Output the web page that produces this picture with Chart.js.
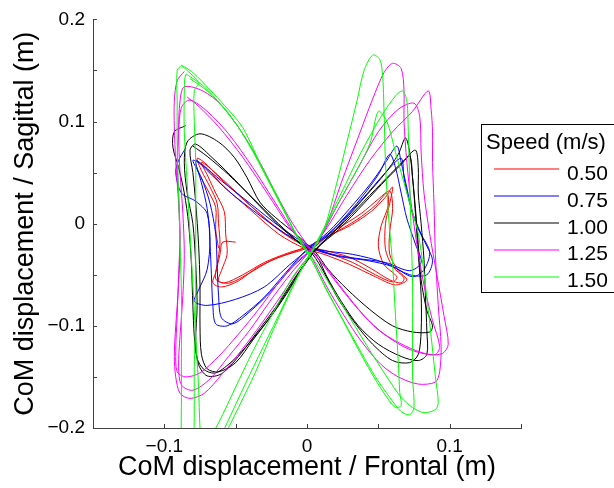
<!DOCTYPE html>
<html><head><meta charset="utf-8">
<script src="https://cdn.jsdelivr.net/npm/chart.js@4.4.1/dist/chart.umd.min.js"></script>
<style>html,body{margin:0;padding:0;background:#fff;}canvas{display:block;}</style>
</head><body>
<canvas id="c" width="614" height="488"></canvas>
<script>
// ---------- data ----------
const legendTitle = 'Speed (m/s)';
const speedLabels = ['0.50', '0.75', '1.00', '1.25', '1.50'];
const speedColors = ['#ff0000', '#0000ff', '#000000', '#ff00ff', '#00ff00'];
const xTitle = 'CoM displacement / Frontal (m)';
const yTitle = 'CoM displacement / Sagittal (m)';
const xTickValues = [-0.1, 0, 0.1];
const xTickLabels = ['\u22120.1', '0', '0.1'];
const yTickValues = [-0.2, -0.1, 0, 0.1, 0.2];
const yTickLabels = ['\u22120.2', '\u22120.1', '0', '0.1', '0.2'];
const xMinorTicks = [-0.15, -0.1, -0.05, 0, 0.05, 0.1, 0.15];
const yMinorTicks = [-0.2, -0.15, -0.1, -0.05, 0, 0.05, 0.1, 0.15, 0.2];

// [frontal, sagittal] samples of the CoM trajectory, per walking speed
const speed050 = [
 [-0.050,-0.018],[-0.059,-0.018],
 [-0.061,-0.030],[-0.064,-0.048],[-0.066,-0.058],[-0.060,-0.062],[-0.048,-0.056],[-0.035,-0.043],[-0.018,-0.032],[0.000,-0.024],
 [0.015,-0.012],[0.030,-0.002],[0.045,0.012],[0.055,0.026],[0.060,0.036],[0.058,0.020],[0.055,0.000],[0.055,-0.025],[0.060,-0.042],[0.068,-0.053],[0.066,-0.058],[0.058,-0.055],
 [0.045,-0.044],[0.030,-0.033],[0.012,-0.026],[0.000,-0.022],[-0.015,-0.010],[-0.030,0.006],[-0.048,0.028],[-0.062,0.046],[-0.072,0.060],[-0.077,0.064],[-0.074,0.052],
 [-0.068,0.036],[-0.063,0.020],[-0.062,0.000],[-0.061,-0.020],
 [-0.063,-0.040],[-0.064,-0.054],[-0.058,-0.058],[-0.045,-0.050],[-0.030,-0.038],[-0.012,-0.028],[0.002,-0.022],[0.018,-0.010],[0.035,0.004],[0.048,0.018],[0.056,0.030],
 [0.057,0.018],[0.052,-0.002],[0.050,-0.022],[0.054,-0.040],[0.063,-0.052],[0.060,-0.057],[0.048,-0.050],[0.032,-0.038],[0.015,-0.029],[0.000,-0.023],
 [-0.018,-0.008],[-0.035,0.012],[-0.052,0.034],[-0.066,0.052],[-0.074,0.060],[-0.070,0.048],[-0.064,0.030],[-0.058,0.012],[-0.057,-0.010],
 [-0.056,-0.030],[-0.060,-0.046],[-0.062,-0.056],[-0.054,-0.058],[-0.040,-0.048],[-0.025,-0.036],[-0.010,-0.028],[0.004,-0.020],[0.020,-0.006],[0.038,0.010],[0.050,0.024],[0.058,0.032],
 [0.060,0.015],[0.058,-0.008],[0.058,-0.030],[0.064,-0.046],[0.070,-0.055],[0.062,-0.060],[0.048,-0.052],[0.030,-0.040],[0.012,-0.030],[-0.002,-0.024],
 [-0.020,-0.010],[-0.040,0.014],[-0.058,0.036],[-0.070,0.054],[-0.078,0.062],[-0.076,0.050],[-0.070,0.034],[-0.064,0.016],[-0.064,-0.006],[-0.062,-0.024]
];
const speed075 = [
 [-0.085,0.074],[-0.090,0.062],[-0.092,0.050],[-0.088,0.030],[-0.078,0.022],[-0.070,0.010],[-0.068,-0.020],[-0.067,-0.050],[-0.066,-0.080],[-0.064,-0.098],[-0.056,-0.100],
 [-0.045,-0.090],[-0.030,-0.072],[-0.015,-0.048],[0.000,-0.025],[0.015,-0.008],[0.030,0.015],[0.045,0.040],[0.056,0.062],[0.063,0.076],
 [0.066,0.060],[0.070,0.035],[0.074,0.010],[0.080,-0.010],[0.086,-0.028],[0.082,-0.045],[0.074,-0.052],[0.060,-0.042],[0.042,-0.036],[0.022,-0.032],[0.005,-0.025],
 [-0.015,-0.010],[-0.035,0.010],[-0.055,0.032],[-0.070,0.052],[-0.078,0.062],
 [-0.074,0.040],[-0.070,0.015],[-0.068,-0.015],[-0.070,-0.045],[-0.076,-0.065],[-0.079,-0.076],[-0.070,-0.080],[-0.050,-0.074],[-0.030,-0.062],[-0.012,-0.040],[0.002,-0.024],
 [0.018,-0.006],[0.035,0.020],[0.050,0.048],[0.058,0.068],[0.062,0.055],[0.066,0.030],[0.070,0.005],[0.076,-0.020],[0.080,-0.038],[0.072,-0.046],[0.055,-0.038],[0.035,-0.034],[0.018,-0.030],[0.002,-0.022],
 [-0.018,-0.004],[-0.040,0.020],[-0.060,0.042],[-0.074,0.058],[-0.080,0.062],
 [-0.074,0.045],[-0.068,0.020],[-0.064,-0.010],[-0.063,-0.040],[-0.062,-0.070],[-0.060,-0.092],[-0.052,-0.098],[-0.040,-0.086],[-0.025,-0.066],[-0.010,-0.042],[0.003,-0.026],
 [0.020,-0.004],[0.040,0.026],[0.055,0.050],[0.066,0.064],[0.068,0.045],[0.072,0.020],[0.078,-0.005],[0.084,-0.022],[0.088,-0.036],[0.084,-0.050],[0.072,-0.050],[0.054,-0.038],[0.032,-0.030],[0.010,-0.026],[-0.004,-0.020]
];
const speed100 = [
 [-0.085,0.096],[-0.093,0.090],[-0.094,0.075],[-0.090,0.055],[-0.086,0.030],[-0.083,0.000],[-0.081,-0.040],[-0.080,-0.080],[-0.079,-0.110],[-0.077,-0.132],[-0.072,-0.143],[-0.064,-0.146],
 [-0.052,-0.134],[-0.040,-0.116],[-0.026,-0.092],[-0.014,-0.068],[-0.004,-0.045],[0.006,-0.026],[0.020,-0.006],[0.038,0.022],[0.054,0.048],[0.064,0.068],[0.069,0.084],
 [0.072,0.070],[0.074,0.045],[0.076,0.015],[0.078,-0.020],[0.080,-0.055],[0.084,-0.085],[0.088,-0.100],[0.086,-0.106],[0.074,-0.106],[0.060,-0.100],[0.044,-0.084],[0.028,-0.064],[0.015,-0.045],[0.006,-0.028],
 [-0.008,-0.010],[-0.022,0.006],[-0.033,0.021],[-0.042,0.045],[-0.051,0.065],[-0.062,0.080],[-0.075,0.088],[-0.084,0.080],
 [-0.086,0.060],[-0.084,0.030],[-0.080,0.000],[-0.078,-0.040],[-0.077,-0.080],[-0.078,-0.115],[-0.076,-0.138],[-0.070,-0.149],[-0.060,-0.147],[-0.048,-0.130],[-0.036,-0.108],[-0.022,-0.082],[-0.010,-0.056],[0.000,-0.036],[0.008,-0.022],
 [0.022,-0.004],[0.040,0.022],[0.056,0.045],[0.068,0.062],[0.076,0.072],[0.078,0.055],[0.078,0.030],[0.080,0.000],[0.082,-0.035],[0.083,-0.070],[0.084,-0.105],[0.084,-0.128],[0.078,-0.134],[0.066,-0.130],[0.050,-0.118],[0.036,-0.100],[0.024,-0.076],[0.014,-0.052],[0.006,-0.030],
 [-0.004,-0.020],[-0.018,-0.004],[-0.035,0.020],[-0.052,0.045],[-0.066,0.064],[-0.078,0.078],[-0.082,0.072],
 [-0.080,0.050],[-0.078,0.020],[-0.076,-0.020],[-0.075,-0.060],[-0.075,-0.100],[-0.074,-0.128],[-0.070,-0.142],[-0.062,-0.145],[-0.050,-0.136],[-0.038,-0.114],[-0.024,-0.088],[-0.012,-0.062],[-0.002,-0.040],[0.007,-0.024],
 [0.022,-0.006],[0.040,0.020],[0.056,0.044],[0.066,0.058],[0.072,0.066],[0.074,0.045],[0.076,0.010],[0.078,-0.030],[0.080,-0.070],[0.080,-0.105],[0.078,-0.128],[0.072,-0.136],[0.060,-0.134],[0.046,-0.118],[0.034,-0.098],[0.022,-0.074],[0.012,-0.048],[0.004,-0.030],
 [-0.006,-0.018],[-0.020,0.000],[-0.038,0.025],[-0.055,0.048],[-0.070,0.066],[-0.080,0.076]
];
const speed125 = [
 [-0.086,0.149],[-0.091,0.140],[-0.093,0.120],[-0.093,0.095],[-0.092,0.060],[-0.090,0.020],[-0.089,-0.020],[-0.090,-0.060],[-0.092,-0.100],[-0.093,-0.130],[-0.092,-0.150],[-0.089,-0.166],[-0.082,-0.171],
 [-0.072,-0.166],[-0.060,-0.148],[-0.046,-0.124],[-0.032,-0.098],[-0.018,-0.070],[-0.006,-0.045],[0.004,-0.026],[0.014,0.000],[0.024,0.040],[0.036,0.085],[0.046,0.122],[0.054,0.148],[0.060,0.157],
 [0.066,0.152],[0.068,0.130],[0.068,0.100],[0.070,0.060],[0.073,0.020],[0.077,-0.020],[0.082,-0.060],[0.088,-0.095],[0.093,-0.120],[0.090,-0.128],[0.080,-0.126],[0.065,-0.117],[0.050,-0.104],[0.036,-0.084],[0.022,-0.060],[0.010,-0.038],[0.002,-0.024],
 [-0.010,0.000],[-0.022,0.030],[-0.033,0.060],[-0.046,0.090],[-0.060,0.116],[-0.073,0.130],[-0.086,0.134],
 [-0.089,0.120],[-0.090,0.090],[-0.089,0.050],[-0.087,0.010],[-0.086,-0.030],[-0.087,-0.070],[-0.089,-0.110],[-0.090,-0.140],[-0.088,-0.158],[-0.080,-0.163],[-0.068,-0.152],[-0.055,-0.130],[-0.040,-0.104],[-0.026,-0.076],[-0.012,-0.050],[0.000,-0.030],
 [0.010,-0.012],[0.022,0.020],[0.036,0.055],[0.050,0.090],[0.064,0.112],[0.075,0.118],[0.079,0.105],[0.080,0.070],[0.082,0.030],[0.086,-0.010],[0.091,-0.050],[0.096,-0.090],[0.099,-0.118],[0.095,-0.127],[0.085,-0.128],[0.070,-0.122],[0.054,-0.108],[0.040,-0.090],[0.026,-0.066],[0.014,-0.044],[0.004,-0.028],
 [-0.008,-0.010],[-0.022,0.020],[-0.038,0.055],[-0.055,0.088],[-0.070,0.110],[-0.082,0.121],[-0.088,0.114],
 [-0.090,0.090],[-0.091,0.060],[-0.090,0.030],[-0.089,-0.010],[-0.090,-0.050],[-0.091,-0.090],[-0.092,-0.125],[-0.091,-0.145],[-0.085,-0.150],[-0.075,-0.146],[-0.062,-0.130],[-0.048,-0.108],[-0.034,-0.084],[-0.020,-0.058],[-0.008,-0.038],[0.003,-0.025],
 [0.014,-0.004],[0.028,0.028],[0.044,0.062],[0.060,0.090],[0.074,0.110],[0.085,0.130],[0.087,0.112],[0.088,0.090],[0.088,0.060],[0.089,0.020],[0.090,-0.030],[0.092,-0.080],[0.094,-0.120],[0.093,-0.145],[0.090,-0.155],[0.078,-0.157],[0.064,-0.150],[0.052,-0.138],[0.038,-0.115],[0.026,-0.090],[0.014,-0.062],[0.006,-0.040],[0.000,-0.025],
 [-0.012,-0.004],[-0.028,0.030],[-0.045,0.065],[-0.062,0.095],[-0.076,0.115],[-0.084,0.124]
];
const speed150 = [
 [-0.088,0.155],[-0.091,0.150],[-0.091,0.120],[-0.091,0.080],[-0.090,0.030],[-0.089,-0.020],[-0.088,-0.070],[-0.088,-0.120],[-0.088,-0.170],[-0.088,-0.210],[-0.086,-0.235],[-0.080,-0.240],
 [-0.074,-0.225],[-0.062,-0.195],[-0.050,-0.160],[-0.038,-0.125],[-0.024,-0.088],[-0.010,-0.052],[0.002,-0.030],[0.012,-0.005],[0.020,0.035],[0.028,0.080],[0.035,0.120],[0.040,0.150],[0.046,0.165],
 [0.051,0.161],[0.053,0.145],[0.054,0.110],[0.055,0.060],[0.057,0.010],[0.060,-0.040],[0.062,-0.090],[0.064,-0.135],[0.065,-0.165],[0.066,-0.178],[0.062,-0.180],[0.056,-0.170],[0.046,-0.148],[0.034,-0.118],[0.022,-0.086],[0.011,-0.057],[0.003,-0.035],
 [-0.006,-0.015],[-0.016,0.012],[-0.030,0.050],[-0.045,0.094],[-0.058,0.116],[-0.068,0.131],[-0.080,0.148],[-0.088,0.155],
 [-0.084,0.150],[-0.076,0.138],[-0.079,0.130],[-0.079,0.100],[-0.078,0.060],[-0.078,0.010],[-0.078,-0.040],[-0.078,-0.090],[-0.079,-0.140],[-0.079,-0.190],[-0.079,-0.230],[-0.074,-0.240],
 [-0.066,-0.225],[-0.056,-0.195],[-0.046,-0.165],[-0.034,-0.130],[-0.020,-0.090],[-0.008,-0.055],[0.002,-0.030],[0.012,-0.004],[0.024,0.030],[0.038,0.070],[0.052,0.105],[0.062,0.125],[0.067,0.130],
 [0.070,0.120],[0.071,0.090],[0.072,0.040],[0.073,-0.010],[0.074,-0.060],[0.074,-0.110],[0.074,-0.150],[0.075,-0.180],[0.072,-0.187],[0.066,-0.184],[0.058,-0.170],[0.048,-0.150],[0.038,-0.126],[0.026,-0.096],[0.014,-0.066],[0.005,-0.040],
 [-0.004,-0.020],[-0.015,0.010],[-0.030,0.050],[-0.046,0.090],[-0.060,0.116],[-0.072,0.134],[-0.082,0.144],[-0.085,0.146],
 [-0.086,0.130],[-0.086,0.090],[-0.084,0.040],[-0.082,-0.010],[-0.080,-0.060],[-0.078,-0.110],[-0.076,-0.160],[-0.075,-0.200],[-0.073,-0.235],[-0.066,-0.240],
 [-0.060,-0.215],[-0.048,-0.180],[-0.036,-0.145],[-0.024,-0.105],[-0.012,-0.068],[-0.002,-0.040],[0.006,-0.022],[0.016,0.005],[0.030,0.040],[0.044,0.078],[0.050,0.110],
 [0.056,0.100],[0.062,0.070],[0.070,0.030],[0.078,-0.010],[0.083,-0.060],[0.087,-0.110],[0.090,-0.150],[0.092,-0.175],[0.090,-0.182],[0.082,-0.185],[0.074,-0.180],[0.066,-0.170],[0.056,-0.150],[0.044,-0.124],[0.030,-0.092],[0.018,-0.064],[0.008,-0.042],[0.000,-0.026],
 [-0.010,-0.004],[-0.022,0.030],[-0.038,0.072],[-0.055,0.108],[-0.070,0.130],[-0.082,0.142]
];
const speedSeries = [speed050, speed075, speed100, speed125, speed150];

// ---------- plugins ----------
const FONT = '"Liberation Sans", Arial, Helvetica, sans-serif';
const AXIS_COLOR = '#404040';

const innerTicks = {
  id: 'innerTicks',
  afterDraw(chart) {
    const ctx = chart.ctx, a = chart.chartArea, xs = chart.scales.x, ys = chart.scales.y;
    ctx.save();
    ctx.strokeStyle = AXIS_COLOR; ctx.lineWidth = 1;
    ctx.beginPath();
    xMinorTicks.forEach(v => { const px = Math.round(xs.getPixelForValue(v)) + 0.5; ctx.moveTo(px, a.bottom); ctx.lineTo(px, a.bottom - 4); });
    yMinorTicks.forEach(v => { const py = Math.round(ys.getPixelForValue(v)) + 0.5; ctx.moveTo(a.left, py); ctx.lineTo(a.left + 4, py); });
    ctx.stroke();
    ctx.restore();
  }
};

const speedLegend = {
  id: 'speedLegend',
  afterDraw(chart) {
    const ctx = chart.ctx;
    ctx.save();
    ctx.fillStyle = '#fff';
    ctx.fillRect(482, 125, 140, 168);
    ctx.strokeStyle = '#000'; ctx.lineWidth = 1;
    ctx.strokeRect(481.5, 124.5, 150, 168);
    ctx.fillStyle = '#000';
    ctx.textBaseline = 'alphabetic';
    ctx.textAlign = 'left';
    ctx.font = '22px ' + FONT;
    ctx.fillText(legendTitle, 486, 149);
    ctx.font = '21px ' + FONT;
    chart.data.datasets.forEach((ds, i) => {
      const ly = 169 + i * 27;
      ctx.strokeStyle = ds.borderColor; ctx.lineWidth = 1.2;
      ctx.beginPath(); ctx.moveTo(494, ly); ctx.lineTo(559, ly); ctx.stroke();
      ctx.fillStyle = '#000';
      ctx.fillText(ds.label, 567, 180 + i * 26.8);
    });
    ctx.restore();
  }
};

// ---------- chart ----------
const datasets = speedSeries.map((s, i) => ({
  label: speedLabels[i],
  data: s.map(p => ({x: p[0], y: p[1]})),
  borderColor: speedColors[i],
  backgroundColor: speedColors[i],
  borderWidth: 1,
  pointRadius: 0,
  showLine: true,
  fill: false,
  tension: 0.3,
  clip: 0,
  order: 5 - i
}));

new Chart(document.getElementById('c'), {
  type: 'scatter',
  data: { datasets },
  plugins: [innerTicks, speedLegend],
  options: {
    responsive: false,
    animation: false,
    devicePixelRatio: 1,
    layout: { padding: { left: 0, right: 93, top: 16, bottom: 0 } },
    plugins: { legend: { display: false }, tooltip: { enabled: false } },
    scales: {
      x: {
        type: 'linear', min: -0.15, max: 0.15,
        afterBuildTicks: s => { s.ticks = xTickValues.map(v => ({ value: v })); },
        afterFit: s => { s.height = 60; },
        ticks: {
          autoSkip: false, maxRotation: 0, padding: 7, color: '#000',
          font: { family: FONT, size: 19 },
          callback: (v) => { const k = xTickValues.findIndex(t => Math.abs(t - v) < 1e-9); return k >= 0 ? xTickLabels[k] : ''; }
        },
        grid: { display: true, drawOnChartArea: false, drawTicks: false },
        border: { display: true, color: AXIS_COLOR, width: 1 },
        title: { display: true, text: xTitle, color: '#000', font: { family: FONT, size: 27 }, padding: { top: 0, bottom: 4 } }
      },
      y: {
        type: 'linear', min: -0.2, max: 0.2,
        afterBuildTicks: s => { s.ticks = yTickValues.map(v => ({ value: v })); },
        afterFit: s => { s.width = 93; },
        ticks: {
          autoSkip: false, padding: 8, color: '#000',
          font: { family: FONT, size: 19 },
          callback: (v) => { const k = yTickValues.findIndex(t => Math.abs(t - v) < 1e-9); return k >= 0 ? yTickLabels[k] : ''; }
        },
        grid: { display: true, drawOnChartArea: false, drawTicks: false },
        border: { display: true, color: AXIS_COLOR, width: 1 },
        title: { display: true, text: yTitle, color: '#000', font: { family: FONT, size: 27 }, padding: { top: 9, bottom: 0 } }
      }
    }
  }
});
</script>
</body></html>
